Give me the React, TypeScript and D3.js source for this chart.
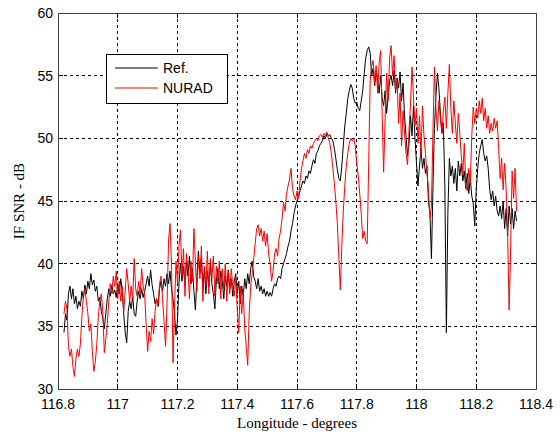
import React from 'react';
import * as d3 from 'd3';

// Longitude sampling of both traces (degrees)
const lonStart = 116.82;
const lonStep = 0.005;

// Reference receiver, IF SNR in dB
const refSNR: number[] = [
  34.5, 36.0, 35.5, 37.6, 38.2, 37.2, 38.0, 36.8, 37.4, 36.4,
  37.0, 36.6, 37.8, 37.2, 38.3, 37.6, 38.6, 38.0, 39.2, 38.3,
  38.7, 37.8, 38.2, 37.0, 37.3, 36.2, 35.6, 34.8, 36.0, 37.2,
  38.0, 37.4, 38.3, 37.6, 37.9, 37.3, 38.4, 37.6, 38.8, 37.8,
  36.0, 34.5, 33.7, 36.2, 37.0, 36.4, 37.4, 36.0, 35.8, 37.0,
  37.8, 37.2, 38.0, 37.3, 37.8, 38.4, 39.0, 38.2, 39.5, 38.3,
  37.6, 36.8, 37.2, 36.6, 38.0, 38.6, 37.8, 38.8, 38.2, 39.2,
  38.4, 39.4, 38.0, 37.2, 36.0, 34.3, 35.5, 38.5, 40.0, 38.6,
  39.8, 38.2, 40.2, 39.0, 40.6, 38.4, 39.6, 37.8, 36.3, 39.0,
  41.0, 39.2, 40.4, 38.0, 39.6, 37.6, 39.4, 38.2, 40.0, 38.4,
  37.6, 36.4, 38.6, 39.6, 38.0, 39.4, 38.6, 37.2, 39.0, 38.2,
  39.5, 38.0, 38.8, 37.4, 38.6, 39.2, 37.6, 38.6, 36.8, 38.2,
  37.4, 38.8, 38.0, 39.2, 38.4, 39.6, 40.2, 39.0, 38.6, 38.0,
  38.8, 37.8, 38.2, 37.6, 38.0, 37.4, 37.8, 37.4, 37.7, 37.4,
  38.0, 38.4, 38.2, 38.8, 39.0, 38.8, 39.6, 40.0, 40.4, 40.8,
  41.4, 41.8, 42.6, 43.2, 44.0, 44.6, 45.0, 45.4, 45.8, 46.2,
  46.6, 46.4, 47.0, 46.8, 47.4, 47.2, 47.8, 48.3, 48.0, 48.8,
  49.0, 49.4, 49.6, 49.8, 50.2, 50.0, 50.4, 50.2, 50.3, 50.0,
  49.8, 49.2, 48.4, 47.5, 46.8, 46.6, 47.8, 49.4, 51.0, 52.0,
  53.2, 53.8, 54.3, 54.0, 53.2, 52.8, 52.9, 52.4, 52.2, 53.0,
  53.8, 55.2, 56.4, 57.0, 57.3, 56.8, 55.0, 55.6, 54.2, 55.4,
  54.6, 53.6, 55.0, 53.2, 52.6, 53.8, 52.0, 53.4, 54.6, 55.0,
  54.2, 55.4, 53.6, 54.8, 54.0, 55.3, 53.0, 54.4, 51.8, 50.2,
  48.6, 49.6, 51.8, 50.2, 52.6, 50.0, 48.0, 46.2, 47.8, 49.2,
  47.6, 48.4, 47.2, 47.8, 45.0, 44.0, 40.4, 46.0, 50.8, 53.4,
  55.2, 54.0, 52.0, 50.4, 51.2, 46.0, 34.5, 44.0, 48.4, 47.0,
  47.8, 46.4, 47.6, 45.8, 48.2, 47.0, 48.0, 46.6, 47.4, 46.0,
  47.2, 45.6, 46.8, 45.4, 44.8, 43.0, 46.0, 47.6, 48.8, 49.4,
  49.9, 48.8, 48.2, 48.6, 47.6, 45.9, 45.1, 45.8, 44.6, 45.4,
  44.2, 43.8, 44.6, 43.6, 45.0, 42.8, 44.4, 42.2, 44.6, 43.2,
  44.4, 42.8, 44.2, 43.4,
];

// NURAD receiver, IF SNR in dB
const nuradSNR: number[] = [
  36.0, 37.0, 36.4, 33.4, 32.6, 33.2, 31.8, 31.0, 32.4, 33.2,
  32.6, 33.6, 35.8, 37.4, 38.0, 37.0, 36.0, 34.6, 35.2, 33.0,
  31.4, 32.2, 33.6, 35.8, 37.0, 37.6, 36.2, 32.9, 34.0, 35.2,
  37.0, 38.4, 37.6, 39.0, 38.2, 39.4, 37.2, 38.6, 37.0, 38.2,
  36.2, 37.8, 39.6, 38.4, 37.0, 38.2, 37.2, 40.4, 38.0, 37.4,
  38.6, 37.6, 39.6, 38.2, 37.6, 35.2, 33.0, 34.6, 33.8, 35.6,
  34.4, 36.2, 37.2, 36.6, 38.4, 39.0, 37.2, 35.4, 33.4, 36.8,
  41.8, 43.2, 40.0, 32.1, 36.4, 40.2, 38.4, 41.4, 42.7, 39.0,
  41.2, 37.4, 40.8, 39.6, 37.2, 40.2, 38.6, 42.8, 40.0, 37.8,
  40.6, 38.8, 41.4, 37.0, 39.8, 38.2, 41.0, 37.6, 40.4, 38.8,
  40.6, 37.4, 39.8, 38.4, 40.2, 37.2, 39.6, 38.0, 40.0, 37.0,
  39.4, 37.6, 39.6, 38.2, 37.4, 38.8, 36.4, 34.5, 38.2, 36.0,
  37.8, 34.8, 33.4, 31.9, 36.0, 38.2, 39.2, 40.4, 41.6, 42.8,
  43.1, 42.2, 42.8, 41.8, 42.6, 41.4, 42.4, 40.8, 40.0, 38.6,
  39.4, 40.8, 41.2, 40.6, 42.0, 42.6, 43.6, 44.9, 44.2, 45.6,
  46.2, 46.7, 47.6, 46.0, 45.4, 45.1, 45.8, 45.2, 46.6, 47.6,
  48.2, 48.8, 48.4, 49.1, 48.8, 49.4, 49.2, 49.6, 49.8, 50.0,
  49.8, 50.2, 50.3, 50.1, 50.4, 50.2, 50.5, 50.0, 49.6, 48.8,
  47.6, 46.4, 45.0, 43.2, 40.6, 37.9, 41.4, 44.2, 46.2, 47.8,
  48.8, 49.6, 50.0, 49.8, 50.0, 49.4, 48.0, 47.0, 45.6, 44.0,
  42.0, 42.6, 41.8, 41.6, 48.0, 54.6, 55.8, 56.2, 54.4, 55.8,
  53.6, 56.0, 57.0, 52.0, 47.3, 51.6, 55.2, 53.0, 56.4, 57.4,
  55.0, 56.6, 53.8, 54.8, 51.2, 53.6, 49.4, 52.2, 50.4, 48.8,
  47.9, 50.6, 52.8, 55.7, 53.2, 51.0, 52.4, 49.6, 51.8, 48.6,
  52.6, 50.2, 48.8, 47.2, 46.0, 43.7, 44.6, 50.4, 55.7, 52.4,
  50.6, 53.0, 51.6, 50.4, 52.2, 53.3, 50.8, 53.6, 55.9, 52.4,
  50.4, 53.0, 51.2, 49.6, 52.0, 50.4, 48.6, 47.2, 49.6, 46.2,
  45.8, 47.6, 46.4, 50.2, 52.5, 51.2, 52.4, 51.6, 53.0, 52.0,
  53.2, 51.4, 52.4, 50.8, 51.8, 50.4, 51.2, 50.6, 51.6, 50.8,
  51.4, 49.2, 46.8, 48.4, 45.9, 48.0, 46.0, 42.4, 36.3, 41.0,
  47.4, 45.2, 47.6, 44.2,
];

const xTicks = [116.8, 117, 117.2, 117.4, 117.6, 117.8, 118, 118.2, 118.4];
const xTickLabels = ['116.8', '117', '117.2', '117.4', '117.6', '117.8', '118', '118.2', '118.4'];
const yTicks = [30, 35, 40, 45, 50, 55, 60];
const yTickLabels = ['30', '35', '40', '45', '50', '55', '60'];
const seriesNames = ['Ref.', 'NURAD'];
const seriesColors = ['#000000', '#ff0000'];

export default function App() {
  const W = 560, H = 435;
  const L = 58, R = 536, T = 13, B = 389;
  const x = d3.scaleLinear().domain([116.8, 118.4]).range([L, R]);
  const y = d3.scaleLinear().domain([30, 60]).range([B, T]);
  const lonAt = (i: number) => lonStart + i * lonStep;
  const line = d3.line<number>().x((_, i) => x(lonAt(i))).y((d) => y(d));
  const tickFont = 'Liberation Sans, Arial, sans-serif';
  const labelFont = 'Liberation Serif, Times New Roman, serif';
  const series = [refSNR, nuradSNR];
  return (
    <svg width={W} height={H} style={{ position: 'absolute', left: 0, top: 0, background: '#fff' }}>
      <rect x={0} y={0} width={W} height={H} fill="#fff" />
      {/* grid */}
      {xTicks.slice(1, -1).map((t) => (
        <line key={'gx' + t} x1={x(t)} x2={x(t)} y1={T} y2={B} stroke="#000" strokeWidth={1} strokeDasharray="3,3" shapeRendering="crispEdges" />
      ))}
      {yTicks.slice(1, -1).map((t) => (
        <line key={'gy' + t} x1={L} x2={R} y1={y(t)} y2={y(t)} stroke="#000" strokeWidth={1} strokeDasharray="3,3" shapeRendering="crispEdges" />
      ))}
      {/* data */}
      {series.map((s, k) => (
        <path key={k} d={line(s) || ''} fill="none" stroke={seriesColors[k]} strokeWidth={1} strokeLinejoin="round" />
      ))}
      {/* ticks */}
      {xTicks.map((t) => (
        <g key={'tx' + t}>
          <line x1={x(t)} x2={x(t)} y1={B} y2={B - 5} stroke="#000" shapeRendering="crispEdges" />
          <line x1={x(t)} x2={x(t)} y1={T} y2={T + 5} stroke="#000" shapeRendering="crispEdges" />
        </g>
      ))}
      {yTicks.map((t) => (
        <g key={'ty' + t}>
          <line x1={L} x2={L + 5} y1={y(t)} y2={y(t)} stroke="#000" shapeRendering="crispEdges" />
          <line x1={R} x2={R - 5} y1={y(t)} y2={y(t)} stroke="#000" shapeRendering="crispEdges" />
        </g>
      ))}
      <rect x={L} y={T} width={R - L} height={B - T} fill="none" stroke="#404040" strokeWidth={1} shapeRendering="crispEdges" />
      {/* tick labels */}
      {xTicks.map((t, i) => (
        <text key={'lx' + t} x={x(t)} y={B + 20} textAnchor="middle" fontFamily={tickFont} fontSize={14} fill="#000">
          {xTickLabels[i]}
        </text>
      ))}
      {yTicks.map((t, i) => (
        <text key={'ly' + t} x={L - 5} y={y(t)} dy="0.36em" textAnchor="end" fontFamily={tickFont} fontSize={14} fill="#000">
          {yTickLabels[i]}
        </text>
      ))}
      {/* axis labels */}
      <text x={(L + R) / 2} y={428} textAnchor="middle" fontFamily={labelFont} fontSize={15} fill="#000">
        Longitude - degrees
      </text>
      <text transform={`translate(24, ${(T + B) / 2}) rotate(-90)`} textAnchor="middle" fontFamily={labelFont} fontSize={15} fill="#000">
        IF SNR - dB
      </text>
      {/* legend */}
      <rect x={106} y={54} width={121} height={49} fill="#fff" stroke="#000" strokeWidth={1} shapeRendering="crispEdges" />
      {seriesNames.map((n, k) => (
        <g key={n}>
          <line x1={115} x2={158} y1={68 + k * 20} y2={68 + k * 20} stroke={seriesColors[k]} strokeWidth={1} />
          <text x={163} y={68 + k * 20} dy="0.36em" fontFamily={tickFont} fontSize={14} fill="#000">
            {n}
          </text>
        </g>
      ))}
    </svg>
  );
}
